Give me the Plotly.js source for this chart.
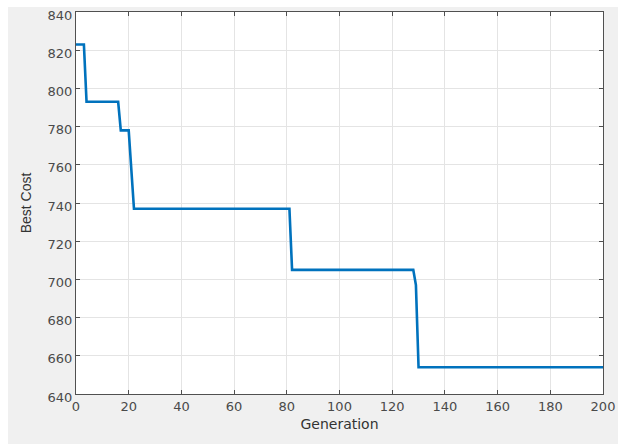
<!DOCTYPE html>
<html>
<head>
<meta charset="utf-8">
<script src="https://cdn.plot.ly/plotly-3.0.1.min.js"></script>
<style>
html,body{margin:0;padding:0;background:#ffffff;width:618px;height:445px;overflow:hidden;}
#bg{position:absolute;left:8px;top:7px;width:610px;height:437px;background:#f0f0f0;}
#chart{position:absolute;left:0;top:0;width:618px;height:445px;}
</style>
</head>
<body>
<div id="bg"></div>
<div id="chart"></div>
<script>
const generation = [0, 3, 4, 16, 17, 20, 22, 81, 82, 128, 129, 130, 200];
const bestCost   = [823, 823, 793, 793, 778, 778, 737, 737, 705, 705, 697, 654, 654];
const xTicks = [0, 20, 40, 60, 80, 100, 120, 140, 160, 180, 200];
const yTicks = [640, 660, 680, 700, 720, 740, 760, 780, 800, 820, 840];

const axisCommon = {
  showline: true, mirror: 'ticks', linecolor: '#505050', linewidth: 1,
  ticks: 'inside', ticklen: 4, tickcolor: '#505050',
  showgrid: true, gridcolor: '#e4e4e4', gridwidth: 1,
  zeroline: false, ticklabeloverflow: 'allow',
  tickfont: {family: 'DejaVu Sans, sans-serif', size: 13, color: '#4a4a4a'}
};

const trace = {
  x: generation, y: bestCost, type: 'scatter', mode: 'lines',
  line: {color: '#0072BD', width: 2.6}
};

const layout = {
  width: 618, height: 445,
  margin: {l: 76, r: 15, t: 12, b: 51},
  paper_bgcolor: 'rgba(0,0,0,0)', plot_bgcolor: '#ffffff',
  showlegend: false,
  xaxis: Object.assign({}, axisCommon, {
    range: [0, 200], tickvals: xTicks,
    title: {text: 'Generation', standoff: 6, font: {family: 'DejaVu Sans, sans-serif', size: 14, color: '#333333'}}
  }),
  yaxis: Object.assign({}, axisCommon, {
    range: [640, 840], tickvals: yTicks, ticklabelshift: 3,
    title: {text: 'Best Cost', standoff: 12, font: {family: 'Liberation Sans, Arial, sans-serif', size: 14, color: '#333333'}}
  })
};

Plotly.newPlot('chart', [trace], layout, {displayModeBar: false, staticPlot: true});
</script>
</body>
</html>
